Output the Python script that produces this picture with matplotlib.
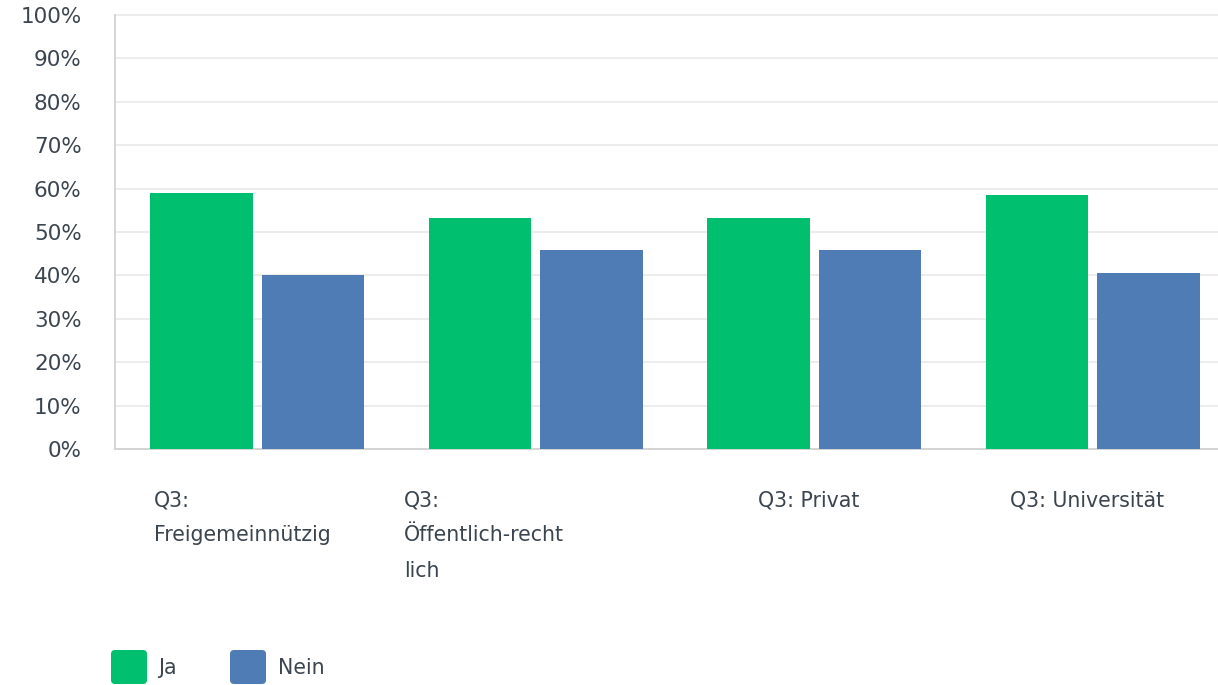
import matplotlib
matplotlib.use("Agg")
import matplotlib.pyplot as plt
from matplotlib.patches import FancyBboxPatch
from matplotlib.transforms import IdentityTransform
import numpy as np

# Daten
kategorien = ["Q3:\nFreigemeinnützig", "Q3:\nÖffentlich-recht\nlich", "Q3: Privat", "Q3: Universität"]
ja = [58.9, 53.3, 53.3, 58.5]
nein = [40.1, 45.9, 45.9, 40.6]
y_ticks = [0, 10, 20, 30, 40, 50, 60, 70, 80, 90, 100]

GRUEN = "#00bf6f"
BLAU = "#507cb6"
TEXT = "#3b4550"

plt.rcParams["font.family"] = ["DejaVu Sans"]

fig = plt.figure(figsize=(12.18, 6.85), dpi=100)
ax = fig.add_axes([115 / 1218, 235.7 / 685, 4 * 278.6 / 1218, 434.6 / 685])

x = np.arange(len(kategorien))
breite = 0.368
ax.bar(x - 0.2, ja, breite, color=GRUEN, zorder=3)
ax.bar(x + 0.2, nein, breite, color=BLAU, zorder=3)

ax.set_xlim(-0.51, len(kategorien) - 0.51)
ax.set_ylim(0, 100)
ax.set_yticks(y_ticks)
ax.set_yticklabels([f"{v}%" for v in y_ticks], fontsize=15.5, color=TEXT)
ax.tick_params(axis="y", length=0, pad=24)
ax.set_xticks([])
ax.yaxis.grid(True, color="#e9e9e9", linewidth=1.2, zorder=0)
for gl in ax.get_ygridlines():
    gl.set_clip_on(False)
ax.set_axisbelow(True)
for s in ["top", "right"]:
    ax.spines[s].set_visible(False)
ax.spines["left"].set_color("#d0d0d0")
ax.spines["bottom"].set_color("#d0d0d0")
ax.spines["left"].set_linewidth(1.2)
ax.spines["bottom"].set_linewidth(1.2)

# Kategorienbeschriftungen (linksbündig, versetzt wie im Original)
label_dx = [-0.37, -0.473, -0.202, -0.298]
for i, lab in enumerate(kategorien):
    ax.text(i + label_dx[i], -0.094, lab, transform=ax.get_xaxis_transform(),
            ha="left", va="top", fontsize=14.8, color=TEXT, linespacing=1.95)

# Legende
tr = IdentityTransform()
for x0, farbe, txt, tx in [(111, GRUEN, "Ja", 158), (230, BLAU, "Nein", 278)]:
    fig.patches.append(FancyBboxPatch((x0 + 4, 5), 28, 26, boxstyle="round,pad=4",
                                      facecolor=farbe, edgecolor="none", transform=tr))
    fig.text(tx / 1218, 17 / 685, txt, fontsize=14.8, color=TEXT, va="center", ha="left")

fig.savefig("out.png", dpi=100)
